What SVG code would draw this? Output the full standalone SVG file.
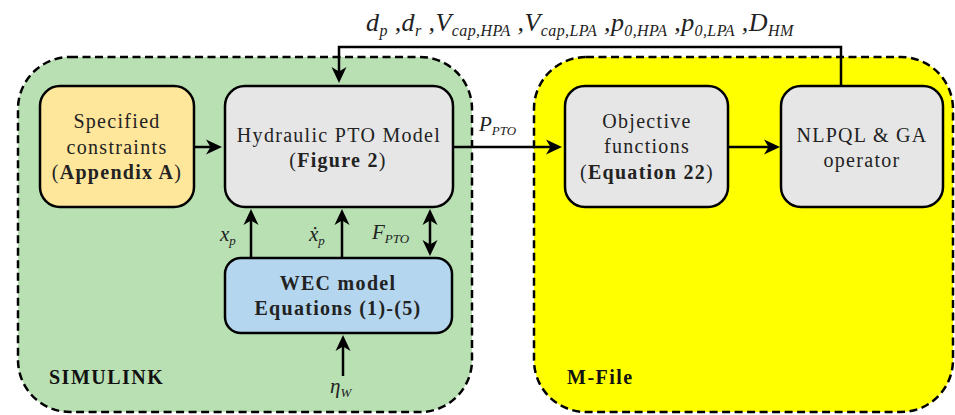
<svg xmlns="http://www.w3.org/2000/svg" width="955" height="415" viewBox="0 0 955 415">
  <defs>
    <marker id="arrow" markerUnits="userSpaceOnUse" markerWidth="18" markerHeight="18" viewBox="0 0 18 18" refX="10" refY="9" orient="auto-start-reverse">
      <path d="M1,1.5 L17,9 L1,16.5 L5.5,9 z" fill="#000"/>
    </marker>
    <style>
      .container { stroke: #000; stroke-width: 2.5; stroke-dasharray: 8 4.5; }
      .box { stroke: #000; stroke-width: 2.5; }
      .wire { fill: none; stroke: #000; stroke-width: 2.5; }
      .lbl { font-family: "Liberation Serif", "Times New Roman", serif; font-size: 20px; fill: #222; letter-spacing: 1.3px; }
      .b { font-weight: bold; }
      .math { font-family: "Liberation Serif", "Times New Roman", serif; font-style: italic; font-size: 26px; fill: #222; letter-spacing: 0.4px; }
      .sub { font-size: 16px; }
      .vlab { font-family: "Liberation Serif", "Times New Roman", serif; font-style: italic; font-size: 21px; fill: #222; }
      .vsub { font-size: 13px; }
      .tag { font-family: "Liberation Serif", "Times New Roman", serif; font-weight: bold; font-size: 20px; fill: #111; letter-spacing: 1.5px; }
    </style>
  </defs>

  <!-- Containers -->
  <g id="simulink">
    <rect class="container" x="18" y="57" width="454" height="355" rx="52" fill="#b8e0b3"/>
    <text class="tag" x="49" y="384">SIMULINK</text>
  </g>
  <g id="mfile">
    <rect class="container" x="534" y="57" width="419" height="355" rx="52" fill="#ffff00"/>
    <text class="tag" x="567" y="384">M-File</text>
  </g>

  <!-- Connectors -->
  <g id="connectors">
    <!-- feedback of design variables -->
    <path class="wire" d="M841,86 V47 H339 V76" marker-end="url(#arrow)"/>
    <path class="wire" d="M194,147 H215" marker-end="url(#arrow)"/>
    <path class="wire" d="M453,147 H555" marker-end="url(#arrow)"/>
    <path class="wire" d="M728,147 H773" marker-end="url(#arrow)"/>
    <path class="wire" d="M251,258 V216" marker-end="url(#arrow)"/>
    <path class="wire" d="M342,258 V216" marker-end="url(#arrow)"/>
    <path class="wire" d="M430,249 V216" marker-start="url(#arrow)" marker-end="url(#arrow)"/>
    <path class="wire" d="M343,376 V342" marker-end="url(#arrow)"/>
  </g>

  <!-- Connector labels -->
  <g id="labels">
    <text class="math" x="366" y="31">d<tspan class="sub" dy="5">p</tspan><tspan dy="-5"> ,d</tspan><tspan class="sub" dy="5">r</tspan><tspan dy="-5"> ,V</tspan><tspan class="sub" dy="5">cap,HPA</tspan><tspan dy="-5"> ,V</tspan><tspan class="sub" dy="5">cap,LPA</tspan><tspan dy="-5"> ,p</tspan><tspan class="sub" dy="5">0,HPA</tspan><tspan dy="-5"> ,p</tspan><tspan class="sub" dy="5">0,LPA</tspan><tspan dy="-5"> ,D</tspan><tspan class="sub" dy="5">HM</tspan></text>
    <text class="vlab" x="479" y="131">P<tspan class="vsub" dy="4">PTO</tspan></text>
    <text class="vlab" x="220" y="241">x<tspan class="vsub" dy="4">p</tspan></text>
    <text class="vlab" x="309" y="241">ẋ<tspan class="vsub" dy="4">p</tspan></text>
    <text class="vlab" x="372" y="239">F<tspan class="vsub" dy="4">PTO</tspan></text>
    <text class="vlab" x="330" y="393" font-size="25">η<tspan class="vsub" dy="4">W</tspan></text>
  </g>

  <!-- Nodes -->
  <g id="constraints">
    <rect class="box" x="40" y="86" width="154" height="121" rx="20" fill="#fee69b"/>
    <text class="lbl" text-anchor="middle" x="117" y="128">Specified</text>
    <text class="lbl" text-anchor="middle" x="117" y="154">constraints</text>
    <text class="lbl" text-anchor="middle" x="117" y="179">(<tspan class="b">Appendix A</tspan>)</text>
  </g>
  <g id="pto-model">
    <rect class="box" x="225" y="86" width="228" height="121" rx="20" fill="#e6e6e6"/>
    <text class="lbl" text-anchor="middle" x="339" y="142">Hydraulic PTO Model</text>
    <text class="lbl" text-anchor="middle" x="338" y="167">(<tspan class="b">Figure 2</tspan>)</text>
  </g>
  <g id="wec-model">
    <rect class="box" x="225" y="258" width="227" height="75" rx="16" fill="#b4d6ef"/>
    <text class="lbl b" text-anchor="middle" x="338" y="290">WEC model</text>
    <text class="lbl b" text-anchor="middle" x="338" y="315">Equations (1)-(5)</text>
  </g>
  <g id="objective">
    <rect class="box" x="565" y="86" width="163" height="121" rx="20" fill="#e6e6e6"/>
    <text class="lbl" text-anchor="middle" x="647" y="128">Objective</text>
    <text class="lbl" text-anchor="middle" x="647" y="153">functions</text>
    <text class="lbl" text-anchor="middle" x="647" y="179">(<tspan class="b">Equation 22</tspan>)</text>
  </g>
  <g id="optimizer">
    <rect class="box" x="781" y="86" width="162" height="121" rx="20" fill="#e6e6e6"/>
    <text class="lbl" text-anchor="middle" x="862" y="142">NLPQL &amp; GA</text>
    <text class="lbl" text-anchor="middle" x="862" y="167">operator</text>
  </g>
</svg>
